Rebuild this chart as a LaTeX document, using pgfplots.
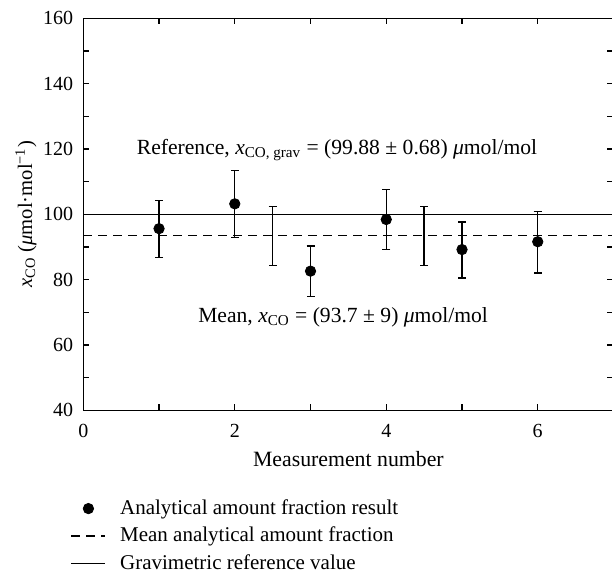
\documentclass[border=0pt]{standalone}
\usepackage{fontspec}
\setmainfont{Liberation Serif}
\usepackage{pgfplots}
\pgfplotsset{compat=1.18}
\begin{document}
\begin{tikzpicture}
\useasboundingbox (-41.65pt,-80.25pt) rectangle (264.35pt,205.15pt);
\clip (-41.65pt,-80.25pt) rectangle (264.35pt,205.15pt);
\begin{axis}[
  scale only axis, width=265.1pt, height=196pt,
  xmin=0, xmax=7, ymin=40, ymax=160,
  xtick={0,2,4,6}, minor xtick={1,3,5},
  ytick={40,60,...,160}, minor ytick={50,70,...,150},
  xtick pos=both, ytick pos=both,
  tick align=inside, major tick length=3pt, minor tick length=3pt,
  tick style={line width=0.6pt, black},
  axis line style={line width=0.7pt},
  /pgf/number format/assume math mode=true,
  tick label style={font=\fontsize{10}{12}\selectfont},
  xticklabel style={yshift=-3.5pt},
  yticklabel style={xshift=-1.5pt},
  xlabel style={font=\fontsize{10.9}{12}\selectfont},
  ylabel style={font=\fontsize{10.3}{12}\selectfont},
  ylabel shift=-3.5pt,
  xlabel={Measurement number},
  ylabel={\textit{x}\textsubscript{CO} (\textit{μ}mol·mol\textsuperscript{−1})},
  legend cell align=left,
  legend style={draw=none, fill=none, at={(0,0)}, anchor=north west, xshift=-9.5pt, yshift=-40.5pt,
    font=\fontsize{10.5}{12}\selectfont, row sep=0.8pt, /tikz/column sep=5pt},
]
\addplot[only marks, mark=*, mark size=2.6pt, black,
  error bars/.cd, y dir=both, y explicit,
  error bar style={line width=0.65pt, black},
  error mark options={rotate=90, mark size=2pt, line width=0.65pt, black}]
  coordinates {
  (1,95.6) += (0,8.6) -= (0,8.9)
  (2,103.2) += (0,10.2) -= (0,10.4)
  (3,82.6) += (0,7.7) -= (0,7.7)
  (4,98.4) += (0,9.2) -= (0,9.2)
  (5,89.2) += (0,8.4) -= (0,8.7)
  (6,91.6) += (0,9.3) -= (0,9.6)
  };
\addlegendentry{Analytical amount fraction result}
\addplot[black, line width=0.6pt, dash pattern=on 4.5pt off 3pt] coordinates {(0,93.4) (7,93.4)};
\addlegendentry{Mean analytical amount fraction}
\addplot[black, line width=0.65pt] coordinates {(0,99.88) (7,99.88)};
\addlegendentry{Gravimetric reference value}
\addplot[draw=none, mark=none, forget plot,
  error bars/.cd, y dir=both, y explicit,
  error bar style={line width=0.65pt, black},
  error mark options={rotate=90, mark size=2pt, line width=0.65pt, black}]
  coordinates {
  (2.5,93.4) +- (0,9.0)
  (4.5,93.4) +- (0,9.0)
  };
\node[font=\fontsize{10.8}{13}\selectfont] at (axis cs:3.35,119.6) {Reference, \textit{x}\textsubscript{CO, grav} = (99.88 ± 0.68) \textit{μ}mol/mol};
\node[font=\fontsize{10.8}{13}\selectfont] at (axis cs:3.43,68.5) {Mean, \textit{x}\textsubscript{CO} = (93.7 ± 9) \textit{μ}mol/mol};
\end{axis}
\end{tikzpicture}
\end{document}
